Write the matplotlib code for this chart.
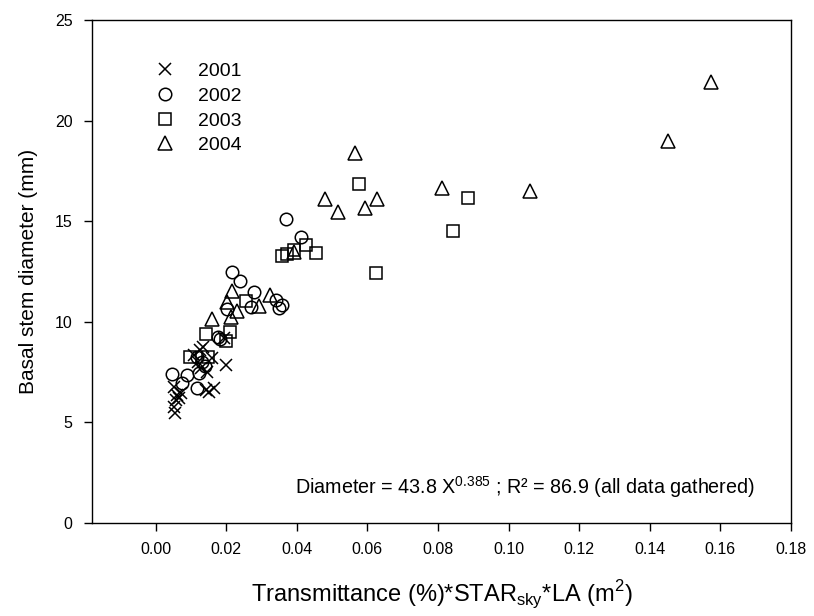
import matplotlib
matplotlib.use("Agg")
import matplotlib.pyplot as plt

plt.rcParams['font.family'] = ['Liberation Sans', 'DejaVu Sans']

x2001 = [0.0052, 0.0061, 0.0057, 0.0052, 0.0054, 0.0071, 0.0066, 0.0142, 0.0151, 0.0165,
         0.0199, 0.0194, 0.0110, 0.0125, 0.0135, 0.0120, 0.0130, 0.0145, 0.0160]
y2001 = [6.78, 6.36, 6.11, 5.78, 5.45, 6.45, 6.20, 6.61, 6.53, 6.69,
         7.85, 9.18, 8.35, 8.60, 8.75, 8.00, 7.70, 7.52, 8.20]

x2002 = [0.0047, 0.0090, 0.0076, 0.0118, 0.0123, 0.0132, 0.0118, 0.0177, 0.0182, 0.0202,
         0.0218, 0.0239, 0.0278, 0.0271, 0.0340, 0.0359, 0.0350, 0.0370, 0.0411, 0.0140]
y2002 = [7.39, 7.36, 6.94, 6.69, 7.44, 8.02, 8.27, 9.23, 9.15, 10.62,
         12.49, 12.04, 11.50, 10.75, 11.08, 10.83, 10.67, 15.10, 14.20, 7.80]

x2003 = [0.0097, 0.0148, 0.0142, 0.0210, 0.0199, 0.0257, 0.0357, 0.0372, 0.0392, 0.0426,
         0.0454, 0.0577, 0.0624, 0.0842, 0.0884]
y2003 = [8.27, 8.27, 9.38, 9.48, 9.06, 11.05, 13.27, 13.36, 13.57, 13.82,
         13.43, 16.83, 12.41, 14.53, 16.14]

x2004 = [0.0159, 0.0213, 0.0232, 0.0202, 0.0218, 0.0292, 0.0325, 0.0392, 0.0480, 0.0518,
         0.0565, 0.0594, 0.0626, 0.0811, 0.1062, 0.1452, 0.1574]
y2004 = [10.14, 10.25, 10.55, 11.00, 11.53, 10.80, 11.35, 13.48, 16.10, 15.47,
         18.41, 15.67, 16.10, 16.67, 16.50, 19.00, 21.94]

xticks = [0.00, 0.02, 0.04, 0.06, 0.08, 0.10, 0.12, 0.14, 0.16, 0.18]
yticks = [0, 5, 10, 15, 20, 25]

fig = plt.figure(figsize=(8.14, 6.16), dpi=100)
ax = fig.add_axes([0.113, 0.151, 0.8587, 0.8165])

ms = 9
ax.plot(x2001, y2001, 'x', ls='none', color='black', ms=ms, mew=1.1, label='2001')
ax.plot(x2002, y2002, 'o', ls='none', mfc='none', mec='black', ms=ms, mew=1.1, label='2002')
ax.plot(x2003, y2003, 's', ls='none', mfc='none', mec='black', ms=ms - 0.5, mew=1.1, label='2003')
ax.plot(x2004, y2004, '^', ls='none', mfc='none', mec='black', ms=ms + 0.5, mew=1.1, label='2004')

ax.set_xlim(-0.018, 0.18)
ax.set_ylim(0, 25)
ax.set_xticks(xticks)
ax.set_xticklabels([f"{v:.2f}" for v in xticks])
ax.set_yticks(yticks)
ax.tick_params(direction='out', length=6, width=1, labelsize=11.5, pad=8)
for s in ax.spines.values():
    s.set_linewidth(1)

ax.set_xlabel('Transmittance (%)*STAR$_{\\mathregular{sky}}$*LA (m$^{\\mathregular{2}}$)', fontsize=17, labelpad=15)
ax.set_ylabel('Basal stem diameter (mm)', fontsize=15, labelpad=12)

leg = ax.legend(loc='upper left', bbox_to_anchor=(0.058, 0.95), frameon=False, fontsize=14,
                handletextpad=0.95, labelspacing=0.36, handlelength=1.5)

ax.text(0.2904, 0.058, 'Diameter = 43.8 X$^{\\mathregular{0.385}}$ ; R\u00b2 = 86.9 (all data gathered)',
        transform=ax.transAxes, ha='left', va='baseline', fontsize=14.2)

fig.savefig('out.png', dpi=100)
